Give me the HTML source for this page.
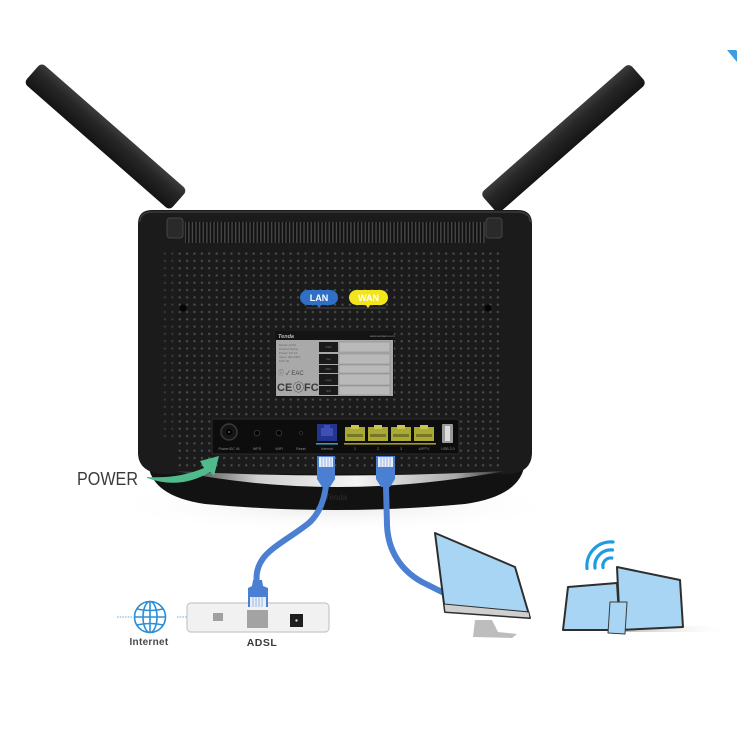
<!DOCTYPE html>
<html><head><meta charset="utf-8"><style>
html,body{margin:0;padding:0;background:#fff;}
svg{display:block;}
text{font-family:"Liberation Sans",sans-serif;}
</style></head><body>
<svg width="737" height="737" viewBox="0 0 737 737" xmlns="http://www.w3.org/2000/svg">
<defs>
<pattern id="dots" x="176" y="250" width="7.4" height="7.3" patternUnits="userSpaceOnUse"><rect width="7.4" height="7.3" fill="#1b1b1b"/><circle cx="3.7" cy="3.6" r="1.2" fill="#4c4c4c"/></pattern>
<pattern id="slats" x="0" y="0" width="3.6" height="10" patternUnits="userSpaceOnUse"><rect width="3.6" height="10" fill="#121212"/><rect x="1" width="1.3" height="10" fill="#4a4a4a"/></pattern>
<linearGradient id="antG" x1="0" y1="0" x2="0" y2="1"><stop offset="0" stop-color="#3c3c3c"/><stop offset="0.35" stop-color="#272727"/><stop offset="1" stop-color="#141414"/></linearGradient>
<linearGradient id="cres" x1="0" x2="1"><stop offset="0" stop-color="#2a2a2a"/><stop offset="0.25" stop-color="#cfcfcf"/><stop offset="0.55" stop-color="#f4f4f4"/><stop offset="0.85" stop-color="#aaa"/><stop offset="1" stop-color="#2a2a2a"/></linearGradient>
<linearGradient id="shad" x1="0" x2="1"><stop offset="0" stop-color="#b5b5b5"/><stop offset="1" stop-color="#fff" stop-opacity="0"/></linearGradient>
<radialGradient id="floor" cx="0.5" cy="0.5" r="0.5"><stop offset="0" stop-color="#e6e6e6"/><stop offset="1" stop-color="#fff" stop-opacity="0"/></radialGradient>
</defs>

<rect width="737" height="737" fill="#fff"/>
<ellipse cx="335" cy="505" rx="230" ry="28" fill="url(#floor)"/>

<polygon points="727,50 736,50 737,51 737,62" fill="#3a9fe0"/>

<g transform="translate(105.5,136.5) rotate(41.2)"><rect x="-97" y="-13.5" width="194" height="27" rx="5" fill="url(#antG)"/></g>
<g transform="translate(563.5,138.5) rotate(-41.3)"><rect x="-99" y="-13.5" width="198" height="27" rx="5" fill="url(#antG)"/></g>

<path d="M148,462 Q150,496 205,504 Q335,516 465,504 Q522,496 525,462 Z" fill="#121212"/>
<path d="M138,224 Q138,210 152,210 L518,210 Q532,210 532,224 L532,454 Q531,472 510,474 L162,474 Q139,472 138,454 Z" fill="#1b1b1b"/>
<path d="M140,222 Q140,212 153,212 L517,212 Q530,212 530,222" fill="none" stroke="#3a3a3a" stroke-width="1.5"/>
<path d="M175,471 Q335,503 505,471 Q335,480 175,471 Z" fill="url(#cres)"/>
<text x="336" y="500" font-size="8" font-style="italic" fill="#2e2e2e" text-anchor="middle">Tenda</text>

<rect x="185" y="222" width="300" height="21" fill="url(#slats)"/>
<rect x="176" y="250" width="324" height="218" fill="url(#dots)"/>
<rect x="160" y="250" width="16" height="190" fill="url(#dots)" opacity="0.6"/>
<rect x="167" y="218" width="16" height="20" rx="3" fill="#2a2a2a" stroke="#444" stroke-width="1"/>
<rect x="486" y="218" width="16" height="20" rx="3" fill="#2a2a2a" stroke="#444" stroke-width="1"/>
<circle cx="183" cy="308" r="3.5" fill="#050505"/>
<circle cx="488" cy="308" r="3.5" fill="#050505"/>

<line x1="306" y1="308" x2="386" y2="308" stroke="#555" stroke-width="0.8"/>
<rect x="300" y="290" width="38" height="15" rx="7.5" fill="#2f6fc6"/>
<polygon points="316,304 322,304 319,308" fill="#2f6fc6"/>
<text x="319" y="301" font-size="9" font-weight="bold" fill="#fff" text-anchor="middle">LAN</text>
<rect x="349" y="290" width="39" height="15" rx="7.5" fill="#f3e51c"/>
<polygon points="365,304 371,304 368,308" fill="#f3e51c"/>
<text x="368.5" y="301" font-size="9" font-weight="bold" fill="#fff" text-anchor="middle">WAN</text>

<rect x="275" y="331" width="119" height="66" fill="#141414"/>
<rect x="276" y="340" width="117" height="56" fill="#a9a9a9"/>
<text x="278" y="338" font-size="5.5" font-style="italic" font-weight="bold" fill="#bbb">Tenda</text>
<text x="370" y="337" font-size="3" fill="#999">www.tendacn.com</text>
<g fill="#666" font-size="3">
<text x="279" y="346">Model: AC10</text>
<text x="279" y="350">Product Name</text>
<text x="279" y="354">Power: 9V 1A</text>
<text x="279" y="358">Input: 100-240V</text>
<text x="279" y="362">FCC ID</text>
</g>
<text x="278" y="375" font-size="6" fill="#444">ⓘ ✓ EAC</text>
<text x="277" y="391" font-size="11" font-weight="bold" fill="#3a3a3a">CE</text>
<text x="293" y="391" font-size="11" fill="#3a3a3a">⓪</text>
<text x="304" y="391" font-size="11" font-weight="bold" fill="#3a3a3a">FC</text>
<g fill="#1a1a1a">
<rect x="319" y="342" width="19" height="10"/>
<rect x="319" y="354" width="19" height="10"/>
<rect x="319" y="365" width="19" height="8"/>
<rect x="319" y="374" width="19" height="11"/>
<rect x="319" y="386" width="19" height="9"/>
</g>
<g fill="#b9b9b9" stroke="#888" stroke-width="0.5">
<rect x="339" y="342" width="51" height="10"/>
<rect x="339" y="354" width="51" height="10"/>
<rect x="339" y="365" width="51" height="8"/>
<rect x="339" y="374" width="51" height="11"/>
<rect x="339" y="386" width="51" height="9"/>
</g>
<g fill="#777" font-size="2.6" text-anchor="middle">
<text x="328.5" y="348">SSID</text>
<text x="328.5" y="360">Key</text>
<text x="328.5" y="370">MAC</text>
<text x="328.5" y="381">Login</text>
<text x="328.5" y="392">S/N</text>
</g>

<rect x="212" y="419" width="247" height="35" rx="2" fill="#0d0d0d" stroke="#2b2b2b" stroke-width="1"/>
<circle cx="229" cy="432" r="8" fill="#151515" stroke="#3a3a3a" stroke-width="1.5"/>
<circle cx="229" cy="432" r="3" fill="#000"/>
<circle cx="229" cy="432" r="1" fill="#666"/>
<circle cx="257" cy="433" r="2.8" fill="#000" stroke="#333" stroke-width="1"/>
<circle cx="279" cy="433" r="2.8" fill="#000" stroke="#333" stroke-width="1"/>
<circle cx="301" cy="433" r="1.5" fill="#000" stroke="#333" stroke-width="0.8"/>
<rect x="317" y="424" width="20" height="17" fill="#27348f"/>
<rect x="321" y="428" width="12" height="8" fill="#3d50b5"/>
<rect x="324" y="425" width="6" height="4" fill="#3d50b5"/>
<rect x="316" y="443" width="22" height="1.6" fill="#2f9cc2"/>
<g fill="#a9a933">
<rect x="345" y="427" width="20" height="14"/>
<rect x="368" y="427" width="20" height="14"/>
<rect x="391" y="427" width="20" height="14"/>
<rect x="414" y="427" width="20" height="14"/>
</g>
<g fill="#c7c653">
<rect x="351" y="425" width="8" height="4"/>
<rect x="374" y="425" width="8" height="4"/>
<rect x="397" y="425" width="8" height="4"/>
<rect x="420" y="425" width="8" height="4"/>
</g>
<g fill="#77772a">
<rect x="347" y="434" width="16" height="3"/>
<rect x="370" y="434" width="16" height="3"/>
<rect x="393" y="434" width="16" height="3"/>
<rect x="416" y="434" width="16" height="3"/>
</g>
<rect x="344" y="443" width="92" height="1.6" fill="#a89a22"/>
<rect x="442" y="424" width="11" height="19" rx="1" fill="#9a9a9a"/>
<rect x="445" y="426" width="5" height="15" fill="#dcdcdc"/>
<g fill="#8c8c8c" font-size="3.6" text-anchor="middle">
<text x="229" y="450">Power/DC IN</text>
<text x="257" y="450">WPS</text>
<text x="279" y="450">WiFi</text>
<text x="301" y="450">Reset</text>
<text x="327" y="450">Internet</text>
<text x="355" y="450">1</text>
<text x="378" y="450">2</text>
<text x="401" y="450">3</text>
<text x="424" y="450">4/IPTV</text>
<text x="448" y="450">USB 2.0</text>
</g>

<text x="77" y="485" font-size="18" fill="#3a3a3a" textLength="61" lengthAdjust="spacingAndGlyphs">POWER</text>
<path d="M147,477 Q178,479 204,468 L200,461 L219,456 L214,476 L210,472 Q180,490 147,478 Z" fill="#4fba8b"/>

<g fill="none" stroke="#4a7fd2" stroke-width="6" stroke-linecap="round">
<path d="M326,486 C324,500 320,512 310,522 C295,535 270,547 262,560 C256,569 256,578 257,586"/>
<path d="M386,486 L387,525 C388,552 402,571 422,582 L446,594"/>
</g>
<g>
<path d="M317,456 L335,456 L335,479 L330,487 L322,487 L317,479 Z" fill="#4a7fd2"/>
<rect x="319" y="457" width="14" height="10" fill="#e8eefa"/>
<g stroke="#8aa6dc" stroke-width="0.8"><line x1="322" y1="457" x2="322" y2="467"/><line x1="325" y1="457" x2="325" y2="467"/><line x1="328" y1="457" x2="328" y2="467"/><line x1="331" y1="457" x2="331" y2="467"/></g>
<path d="M376,456 L395,456 L395,479 L390,487 L381,487 L376,479 Z" fill="#4a7fd2"/>
<rect x="378" y="457" width="15" height="10" fill="#e8eefa"/>
<g stroke="#8aa6dc" stroke-width="0.8"><line x1="381" y1="457" x2="381" y2="467"/><line x1="384" y1="457" x2="384" y2="467"/><line x1="387" y1="457" x2="387" y2="467"/><line x1="390" y1="457" x2="390" y2="467"/></g>
</g>

<line x1="117" y1="617" x2="133" y2="617" stroke="#5aaee6" stroke-width="1" stroke-dasharray="1.5,1.2"/>
<line x1="177" y1="617" x2="214" y2="617" stroke="#5aaee6" stroke-width="1" stroke-dasharray="1.5,1.2"/>
<g fill="none" stroke="#2a8fd8" stroke-width="1.6">
<circle cx="150" cy="617" r="15.5"/>
<ellipse cx="150" cy="617" rx="7" ry="15.5"/>
<line x1="150" y1="601.5" x2="150" y2="632.5"/>
<line x1="134.5" y1="617" x2="165.5" y2="617"/>
<path d="M137,609 Q150,612 163,609"/>
<path d="M137,625 Q150,622 163,625"/>
</g>
<text x="149" y="645" font-size="10" font-weight="bold" fill="#4a4a4a" text-anchor="middle" letter-spacing="0.3">Internet</text>

<rect x="187" y="603" width="142" height="29" rx="4" fill="#f1f1f1" stroke="#c8c8c8" stroke-width="1.2"/>
<rect x="213" y="613" width="10" height="8" fill="#a0a0a0"/>
<rect x="247" y="610" width="21" height="18" fill="#a3a3a3"/>
<rect x="290" y="614" width="13" height="13" fill="#1f1f1f"/>
<circle cx="296.5" cy="620.5" r="1.2" fill="#ddd"/>
<path d="M253,580 L262,580 L263,586 L268,588 L268,607 L248,607 L248,588 L252,586 Z" fill="#4a7fd2"/>
<rect x="250" y="597" width="16" height="10" fill="#e8eefa"/>
<g stroke="#8aa6dc" stroke-width="0.8"><line x1="253" y1="597" x2="253" y2="607"/><line x1="256" y1="597" x2="256" y2="607"/><line x1="259" y1="597" x2="259" y2="607"/><line x1="262" y1="597" x2="262" y2="607"/></g>
<text x="262" y="646" font-size="10.5" font-weight="bold" fill="#3a3a3a" text-anchor="middle" letter-spacing="0.5">ADSL</text>

<polygon points="475,620 492,620 498,632 517,634 512,638 473,637" fill="#bdbdbd"/>
<polygon points="435,533 515,567 530,618 445,612" fill="#a8d5f3" stroke="#2e2e2e" stroke-width="2" stroke-linejoin="round"/>
<polygon points="444,604 529,612 530,618 445,612" fill="#cfcfcf" stroke="#2e2e2e" stroke-width="1"/>

<rect x="618" y="626" width="112" height="6" fill="url(#shad)"/>
<polygon points="568,587 617,583 620,630 563,630" fill="#a8d5f3" stroke="#2e2e2e" stroke-width="2" stroke-linejoin="round"/>
<polygon points="617,567 680,580 683,627 620,630" fill="#a8d5f3" stroke="#2e2e2e" stroke-width="2" stroke-linejoin="round"/>
<polygon points="610,602 627,602 625,634 608,633" fill="#a8d5f3" stroke="#3a3a3a" stroke-width="1" stroke-linejoin="round"/>
<g fill="none" stroke="#1e9ce2" stroke-width="3.2" stroke-linecap="round">
<path d="M603,567.5 A8,8 0 0 1 611.8,558"/>
<path d="M595,568 A16,16 0 0 1 612.5,550"/>
<path d="M587,568.5 A24,24 0 0 1 613,542"/>
</g>
</svg>
</body></html>
